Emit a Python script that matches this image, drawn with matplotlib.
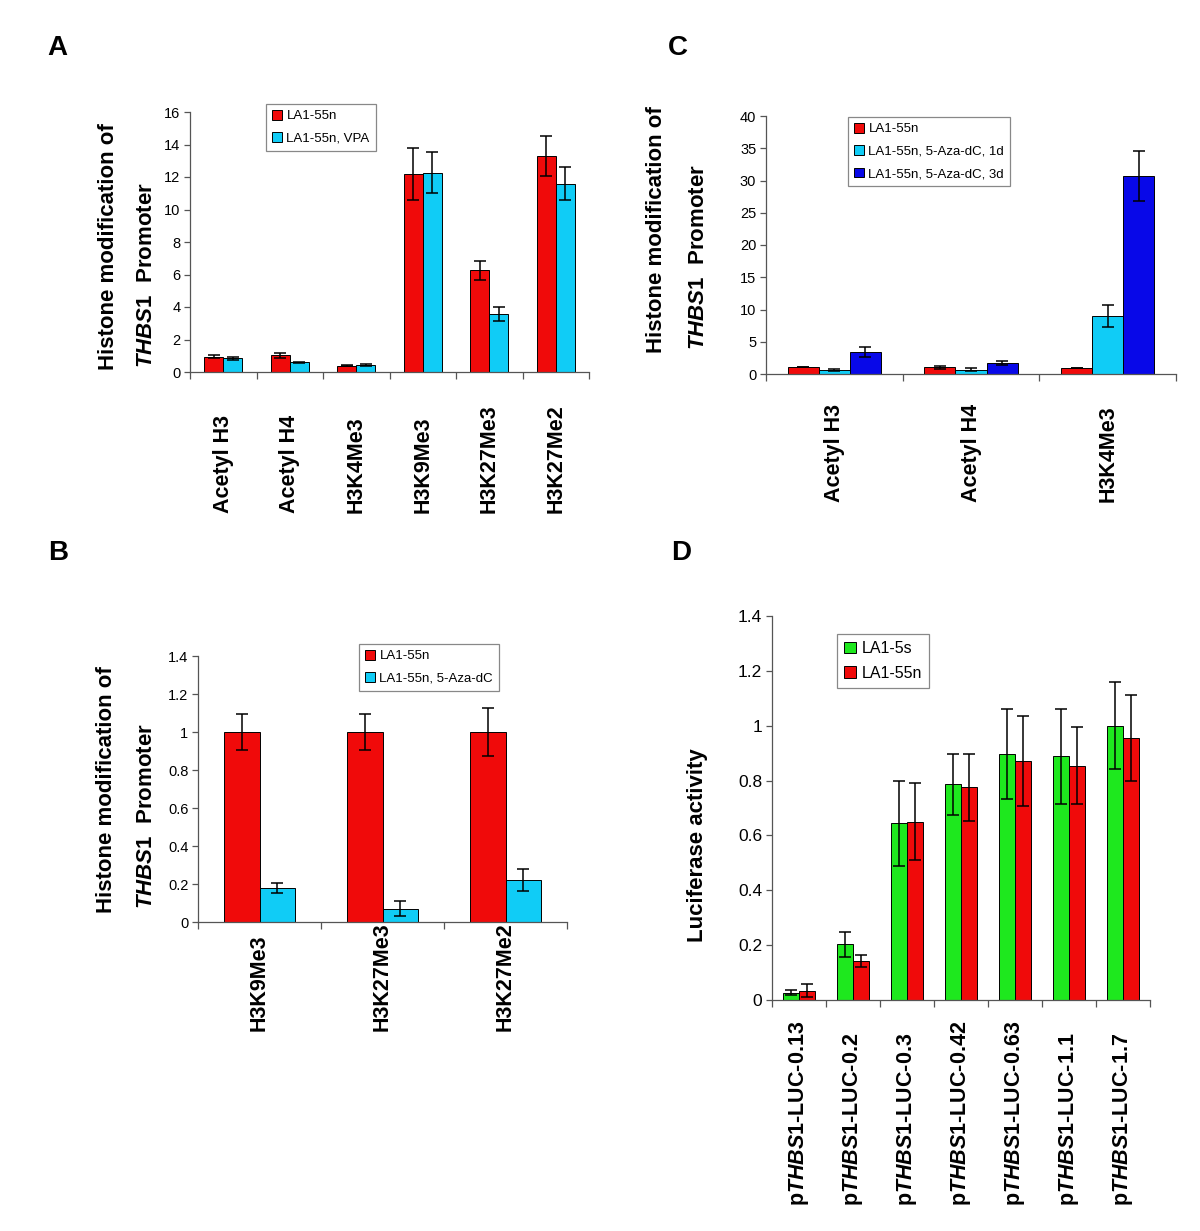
import matplotlib
matplotlib.use('Agg')
import matplotlib.pyplot as plt
import matplotlib.transforms as mtrans
from matplotlib.ticker import FuncFormatter
import numpy as np

plt.rcParams['font.family'] = ['Liberation Sans', 'DejaVu Sans']
plt.rcParams['mathtext.fontset'] = 'custom'
plt.rcParams['mathtext.it'] = 'Liberation Sans:italic:bold'
plt.rcParams['mathtext.rm'] = 'Liberation Sans:bold'
plt.rcParams['mathtext.bf'] = 'Liberation Sans:bold'

W, H = 1200, 1231

# ---------------- Data ----------------
# Panel A
a_categories = ['Acetyl H3', 'Acetyl H4', 'H3K4Me3', 'H3K9Me3', 'H3K27Me3', 'H3K27Me2']
a_series = ['LA1-55n', 'LA1-55n, VPA']
a_ctrl = [0.95, 1.03, 0.40, 12.2, 6.26, 13.3]
a_ctrl_err = [0.08, 0.15, 0.03, 1.6, 0.6, 1.25]
a_vpa = [0.84, 0.61, 0.43, 12.27, 3.56, 11.6]
a_vpa_err = [0.1, 0.03, 0.05, 1.25, 0.42, 1.03]
a_yticks = [0, 2, 4, 6, 8, 10, 12, 14, 16]

# Panel B
b_categories = ['H3K9Me3', 'H3K27Me3', 'H3K27Me2']
b_series = ['LA1-55n', 'LA1-55n, 5-Aza-dC']
b_ctrl = [1.0, 1.0, 1.0]
b_ctrl_err = [0.095, 0.095, 0.125]
b_aza = [0.18, 0.07, 0.22]
b_aza_err = [0.027, 0.04, 0.057]
b_yticks = [0, 0.2, 0.4, 0.6, 0.8, 1.0, 1.2, 1.4]

# Panel C
c_categories = ['Acetyl H3', 'Acetyl H4', 'H3K4Me3']
c_series = ['LA1-55n', 'LA1-55n, 5-Aza-dC, 1d', 'LA1-55n, 5-Aza-dC, 3d']
c_ctrl = [1.03, 1.03, 1.0]
c_ctrl_err = [0.0, 0.2, 0.0]
c_aza1d = [0.55, 0.65, 9.0]
c_aza1d_err = [0.15, 0.25, 1.7]
c_aza3d = [3.42, 1.7, 30.7]
c_aza3d_err = [0.83, 0.25, 3.9]
c_yticks = [0, 5, 10, 15, 20, 25, 30, 35, 40]

# Panel D
d_categories = [r'p$\mathit{THBS1}$-LUC-0.13', r'p$\mathit{THBS1}$-LUC-0.2',
                r'p$\mathit{THBS1}$-LUC-0.3', r'p$\mathit{THBS1}$-LUC-0.42',
                r'p$\mathit{THBS1}$-LUC-0.63', r'p$\mathit{THBS1}$-LUC-1.1',
                r'p$\mathit{THBS1}$-LUC-1.7']
d_series = ['LA1-5s', 'LA1-55n']
d_5s = [0.027, 0.203, 0.645, 0.786, 0.898, 0.888, 1.0]
d_5s_err = [0.009, 0.045, 0.155, 0.111, 0.164, 0.174, 0.159]
d_55n = [0.034, 0.142, 0.65, 0.775, 0.873, 0.854, 0.955]
d_55n_err = [0.024, 0.023, 0.14, 0.122, 0.164, 0.14, 0.158]
d_yticks = [0, 0.2, 0.4, 0.6, 0.8, 1.0, 1.2, 1.4]

RED = '#F00A0A'
CYAN = '#10CCF6'
BLUE = '#0808E8'
GREEN = '#1EE81E'

fig = plt.figure(figsize=(W / 100, H / 100), dpi=100)


def px_axes(left, top, right, bottom):
    return fig.add_axes([left / W, 1 - bottom / H, (right - left) / W, (bottom - top) / H])


def style_axes(ax, n, yticks, ysize):
    for s in ('top', 'right'):
        ax.spines[s].set_visible(False)
    for s in ('left', 'bottom'):
        ax.spines[s].set_color('#555555')
        ax.spines[s].set_linewidth(0.9)
    ax.set_xlim(-0.5, n - 0.5)
    ax.set_ylim(yticks[0], yticks[-1])
    ax.set_yticks(yticks)
    ax.yaxis.set_major_formatter(FuncFormatter(lambda v, p: '%g' % v))
    ax.tick_params(axis='y', direction='out', length=4, width=0.9, color='#555555',
                   labelsize=ysize, pad=3)
    ax.set_xticks(np.arange(n))
    ax.set_xticklabels([])
    ax.tick_params(axis='x', which='major', length=0)
    ax.set_xticks(np.arange(n + 1) - 0.5, minor=True)
    ax.tick_params(axis='x', which='minor', direction='out', length=5, width=0.9,
                   color='#555555')


def grouped(ax, vals_list, errs_list, colors, labels, width):
    k = len(vals_list)
    n = len(vals_list[0])
    handles = []
    for i, (v, e, c, l) in enumerate(zip(vals_list, errs_list, colors, labels)):
        x = np.arange(n) + (i - (k - 1) / 2) * width
        b = ax.bar(x, v, width, color=c, edgecolor='black', linewidth=0.7, label=l,
                   yerr=e, error_kw=dict(ecolor='black', elinewidth=1.1, capsize=4.3,
                                         capthick=1.1))
        handles.append(b)
    return handles


def cat_labels(ax, cats, bottom_px, size):
    tr = mtrans.blended_transform_factory(ax.transData, fig.transFigure)
    for i, c in enumerate(cats):
        ax.text(i, 1 - bottom_px / H, c, transform=tr, rotation=90, ha='center',
                va='bottom', fontsize=size, fontweight='bold')


def legend(ax, handles, labels, left, top, size, spacing):
    lg = ax.legend(handles, labels, loc='upper left', bbox_to_anchor=(left / W, 1 - top / H),
                   bbox_transform=fig.transFigure, borderaxespad=0, fontsize=size,
                   fancybox=False, edgecolor='#888888', framealpha=1,
                   handlelength=0.75, handleheight=0.75, handletextpad=0.35,
                   labelspacing=spacing, borderpad=0.45)
    lg.get_frame().set_linewidth(0.9)


def ylabel2(x1, x2, bottom1, bottom2, size):
    fig.text(x1 / W, 1 - bottom1 / H, 'Histone modification of', rotation=90,
             ha='center', va='bottom', fontsize=size, fontweight='bold')
    fig.text(x2 / W, 1 - bottom2 / H, r'$\mathit{THBS1}$  Promoter', rotation=90,
             ha='center', va='bottom', fontsize=size, fontweight='bold')


# ---------------- Panel A ----------------
axA = px_axes(190, 112, 589, 372)
hA = grouped(axA, [a_ctrl, a_vpa], [a_ctrl_err, a_vpa_err], [RED, CYAN], a_series, 0.286)
style_axes(axA, len(a_categories), a_yticks, 10.5)
cat_labels(axA, a_categories, 513, 15.5)
legend(axA, hA, a_series, 266, 104, 9.5, 0.75)
ylabel2(108, 146, 370, 368, 16)

# ---------------- Panel C ----------------
axC = px_axes(766, 116, 1176, 374)
hC = grouped(axC, [c_ctrl, c_aza1d, c_aza3d], [c_ctrl_err, c_aza1d_err, c_aza3d_err],
             [RED, CYAN, BLUE], c_series, 0.227)
style_axes(axC, len(c_categories), c_yticks, 10.5)
cat_labels(axC, c_categories, 502, 15.5)
legend(axC, hC, c_series, 848, 117, 9.5, 0.75)
ylabel2(657, 698, 353, 350, 16)

# ---------------- Panel B ----------------
axB = px_axes(198, 656, 567, 922)
hB = grouped(axB, [b_ctrl, b_aza], [b_ctrl_err, b_aza_err], [RED, CYAN], b_series, 0.29)
style_axes(axB, len(b_categories), b_yticks, 10.5)
cat_labels(axB, b_categories, 1031, 15.5)
legend(axB, hB, b_series, 359, 644, 9.5, 0.75)
ylabel2(107, 147, 913, 909, 16)

# ---------------- Panel D ----------------
axD = px_axes(772, 616, 1150, 1000)
hD = grouped(axD, [d_5s, d_55n], [d_5s_err, d_55n_err], [GREEN, RED], d_series, 0.296)
style_axes(axD, len(d_categories), d_yticks, 12.5)
cat_labels(axD, d_categories, 1206, 15.5)
legend(axD, hD, d_series, 837, 634, 11.5, 0.6)
fig.text(698 / W, 1 - 942 / H, 'Luciferase activity', rotation=90, ha='center',
         va='bottom', fontsize=16, fontweight='bold')

# Panel letters
for letter, x, y in [('A', 57, 48), ('B', 58, 553), ('C', 678, 48), ('D', 681, 553)]:
    fig.text(x / W, 1 - y / H, letter, ha='center', va='center', fontsize=20,
             fontweight='bold')

fig.savefig('out.png', dpi=100)
